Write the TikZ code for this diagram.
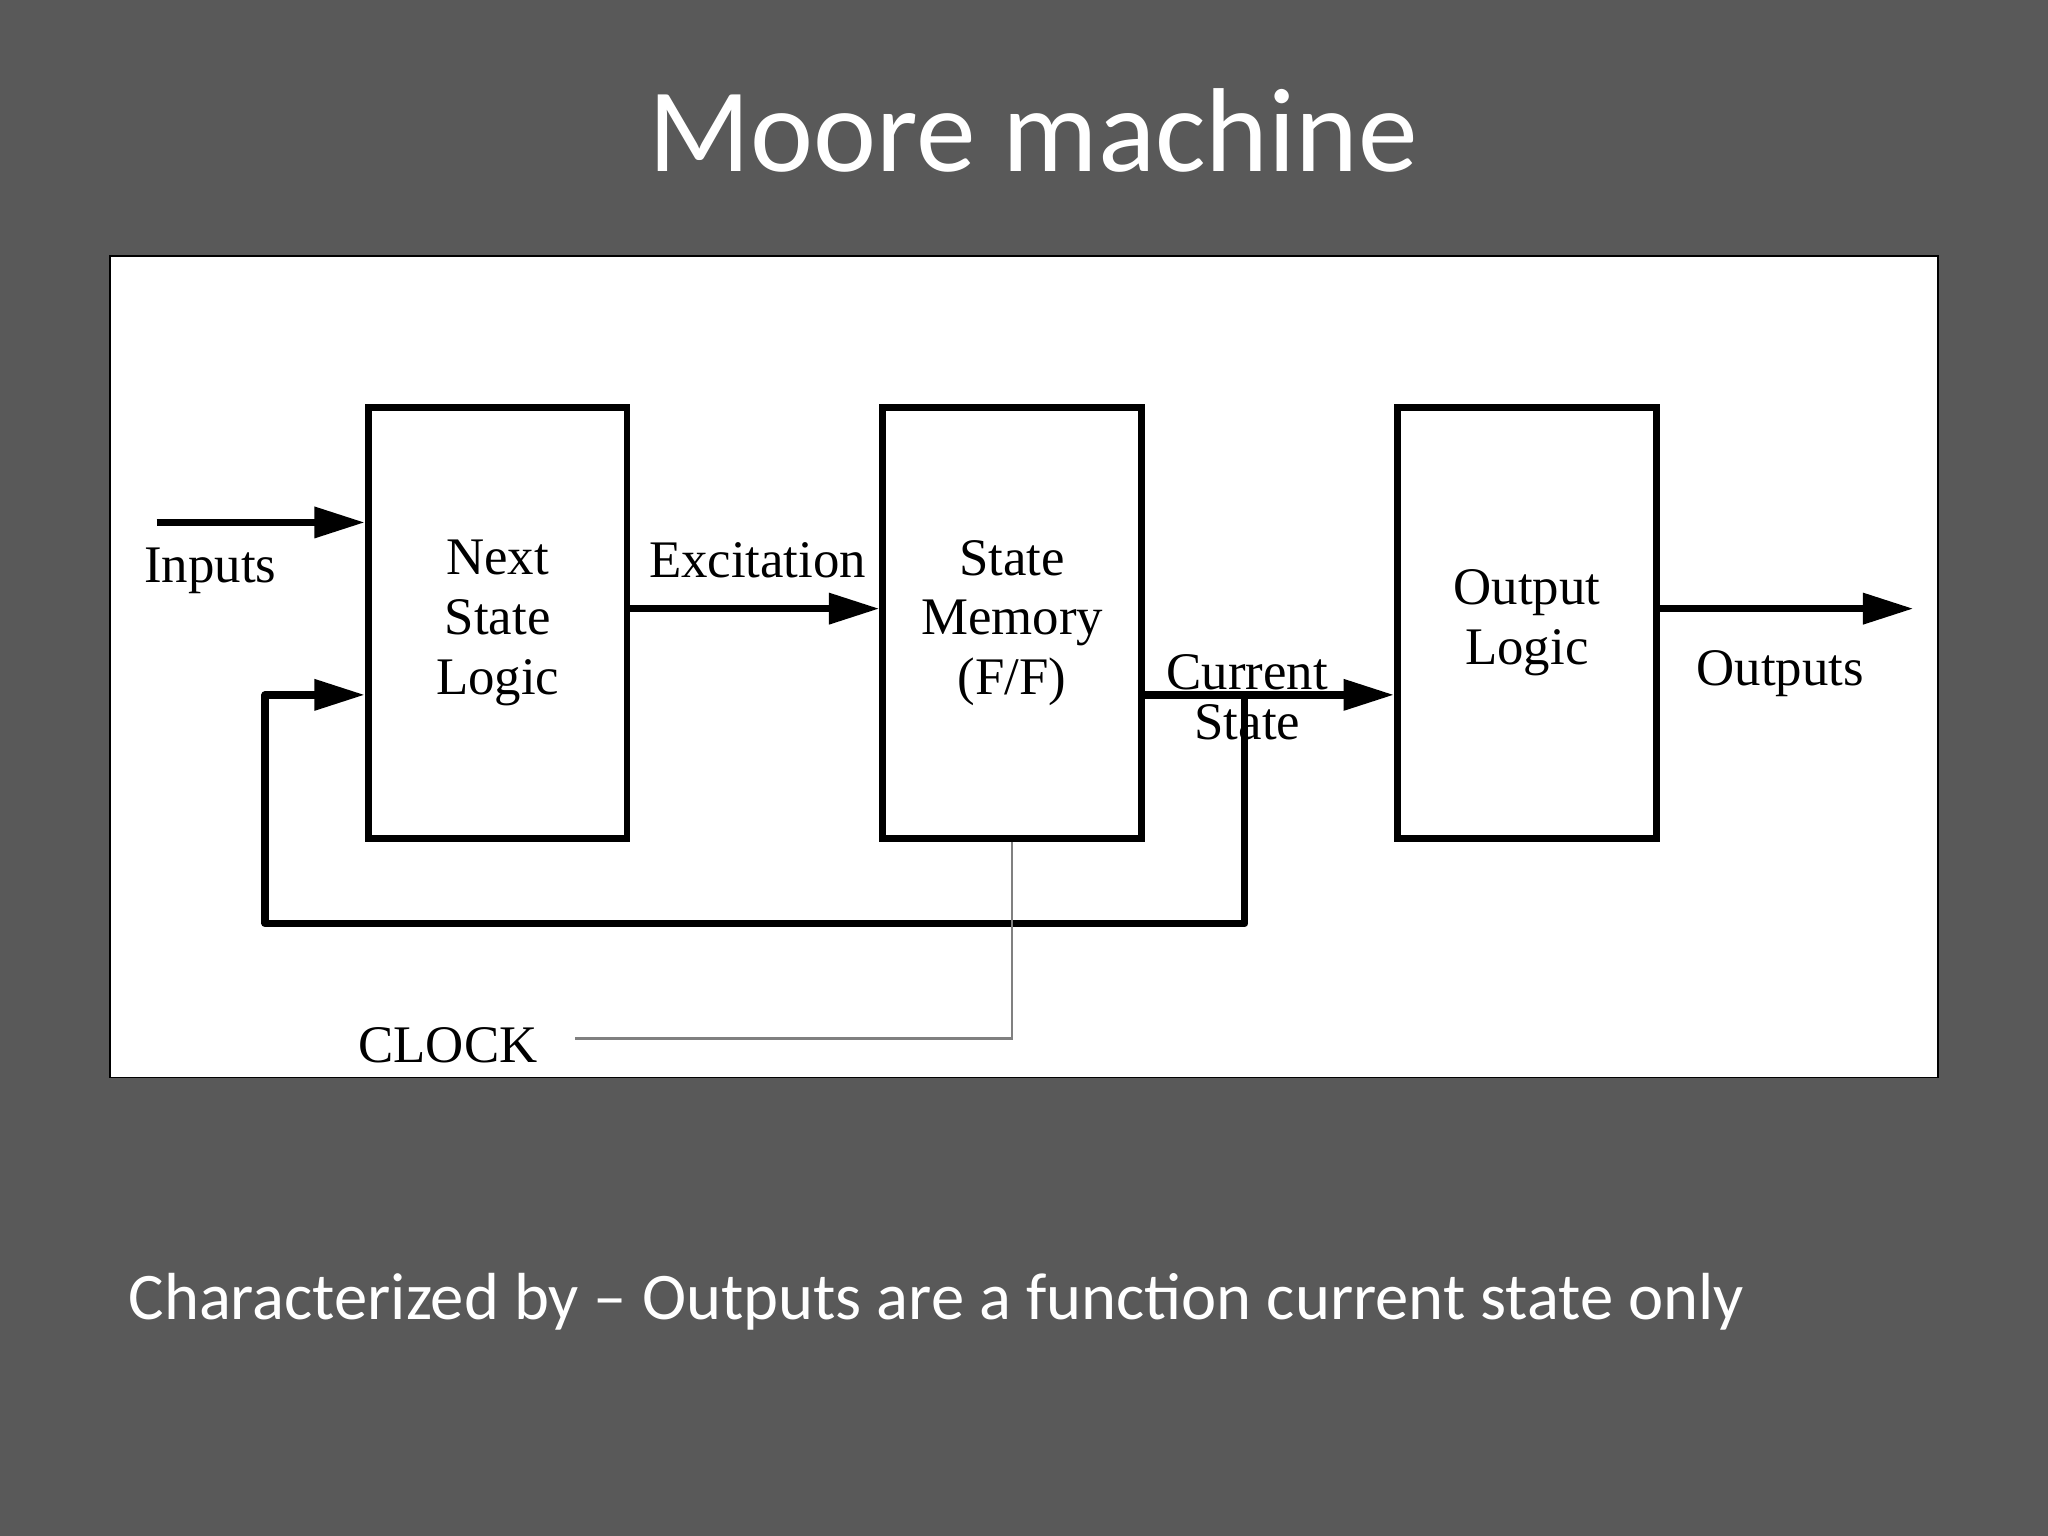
\documentclass[tikz,border=0pt]{standalone}
\usepackage{fontspec}
\setmainfont{Liberation Serif}
\newfontfamily\slidefont{Carlito}
\usetikzlibrary{arrows.meta,positioning}
\definecolor{slidebg}{HTML}{595959}

\begin{document}
\begin{tikzpicture}[x=0.01cm,y=-0.01cm,
    block/.style={draw, line width=1.5pt, minimum width=1.98cm, minimum height=3.3cm, align=center, font=\fontsize{11.5}{13}\selectfont},
    flow/.style={line width=1.6pt, -{Triangle[length=11pt,width=6.5pt]}},
    lbl/.style={font=\fontsize{11.5}{13}\selectfont, align=center}]
    % Slide background and panel
    \fill[slidebg] (0,0) rectangle (1568,1176);
    \useasboundingbox (0,0) rectangle (1568,1176);
    \draw[fill=white, line width=0.4pt] (84,196) rectangle (1484,825);
    \node[text=white, font=\slidefont\fontsize{26}{30}\selectfont] (title) at (791,100) {Moore machine};

    % Blocks
    \node[block] (nsl) at (381,477) {Next\\State\\Logic};
    \node[block] (mem) at (775,477) {State\\Memory\\(F/F)};
    \node[block] (out) at (1169,477) {Output\\Logic};

    % Free ends
    \coordinate (in) at (120,400);
    \coordinate (outend) at (1465,466);
    \coordinate (tap) at (953,532);
    \coordinate (clk) at (440,795);

    % Connectors
    \draw[flow] (in) -- (nsl.west |- in);
    \draw[flow] (nsl.east |- 0,466) -- (mem.west |- 0,466);
    \draw[flow] (mem.east |- tap) -- (out.west |- tap);
    \draw[flow] (out.east |- outend) -- (outend);
    \draw[flow, line join=round] (tap) -- (953,707) -- (203,707) -- (203,532) -- (nsl.west |- 0,532);
    \draw[gray, line width=0.5pt] (mem.south) -- (mem.south |- clk) -- (clk);

    % Labels
    \node[lbl] (linputs) at (161,437) {Inputs};
    \node[lbl] (lexc) at (580,429) {Excitation};
    \node[lbl] (lcur) at (955,534) {Current\\[-2pt]State};
    \node[lbl] (lout) at (1363,516) {Outputs};
    \node[lbl] (lclk) at (343,800) {CLOCK};

    % Caption
    \node[text=white, anchor=west, font=\slidefont\fontsize{14.5}{17}\selectfont] (caption) at (86,997) {Characterized by – Outputs are a function current state only};
\end{tikzpicture}
\end{document}
